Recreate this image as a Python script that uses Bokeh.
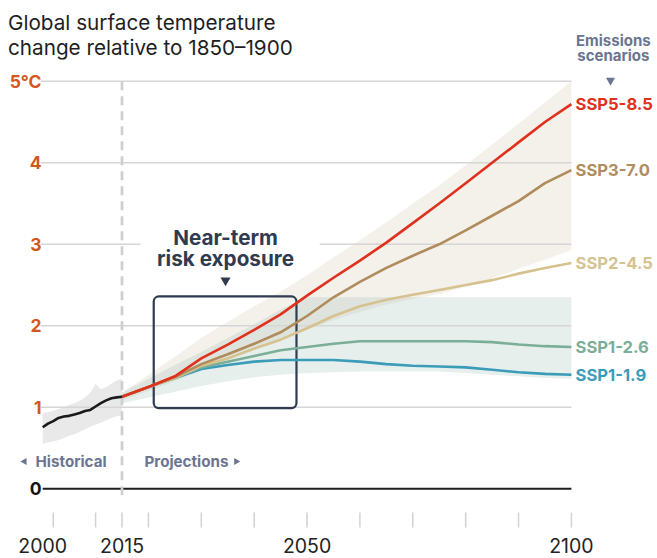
from bokeh.plotting import figure
from bokeh.models import Range1d
from bokeh.core.properties import value
from bokeh.embed import file_html
from bokeh.resources import INLINE

# ---- data -------------------------------------------------------------
hist_years = [2000, 2001, 2002, 2003, 2004, 2005, 2006, 2007, 2008, 2009,
              2010, 2011, 2012, 2013, 2014, 2015]
hist_temp = [0.755, 0.80, 0.83, 0.87, 0.887, 0.895, 0.913, 0.93, 0.955, 0.968,
             1.01, 1.05, 1.085, 1.11, 1.122, 1.13]
hist_upper = [0.93, 0.94, 0.96, 0.98, 1.00, 1.03, 1.05, 1.08, 1.12, 1.18,
              1.29, 1.22, 1.25, 1.29, 1.33, 1.35]
hist_lower = [0.55, 0.57, 0.58, 0.60, 0.62, 0.65, 0.67, 0.70, 0.73, 0.76,
              0.79, 0.81, 0.84, 0.87, 0.89, 0.90]

proj_years = [2015, 2020, 2025, 2030, 2035, 2040, 2045, 2050, 2055, 2060,
              2065, 2070, 2075, 2080, 2085, 2090, 2095, 2100]
ssp585 = [1.13, 1.25, 1.38, 1.60, 1.77, 1.95, 2.14, 2.37, 2.59, 2.80,
          3.02, 3.26, 3.50, 3.75, 4.00, 4.25, 4.50, 4.72]
ssp370 = [1.13, 1.25, 1.37, 1.53, 1.65, 1.78, 1.92, 2.12, 2.35, 2.54,
          2.71, 2.86, 3.00, 3.17, 3.35, 3.53, 3.75, 3.91]
ssp245 = [1.13, 1.25, 1.36, 1.51, 1.60, 1.72, 1.83, 1.97, 2.12, 2.24,
          2.32, 2.38, 2.44, 2.50, 2.56, 2.64, 2.71, 2.77]
ssp126 = [1.13, 1.25, 1.36, 1.49, 1.56, 1.63, 1.70, 1.74, 1.78, 1.81,
          1.81, 1.81, 1.81, 1.81, 1.80, 1.77, 1.75, 1.74]
ssp119 = [1.13, 1.25, 1.36, 1.47, 1.52, 1.56, 1.58, 1.58, 1.58, 1.56,
          1.53, 1.51, 1.50, 1.49, 1.46, 1.43, 1.41, 1.40]

# likely ranges: high-emission pair and low-emission pair
high_upper = [1.18, 1.40, 1.62, 1.85, 2.05, 2.24, 2.42, 2.62, 2.84, 3.05,
              3.27, 3.50, 3.72, 3.97, 4.22, 4.48, 4.74, 5.00]
high_lower = [1.08, 1.20, 1.32, 1.45, 1.57, 1.70, 1.83, 1.95, 2.07, 2.17,
              2.26, 2.33, 2.39, 2.48, 2.58, 2.70, 2.81, 2.93]
low_upper = [1.18, 1.35, 1.52, 1.68, 1.85, 2.02, 2.20, 2.35, 2.35, 2.35,
             2.35, 2.35, 2.35, 2.35, 2.35, 2.35, 2.35, 2.35]
low_lower = [1.05, 1.12, 1.19, 1.26, 1.32, 1.37, 1.40, 1.42, 1.43, 1.44,
             1.44, 1.44, 1.44, 1.42, 1.40, 1.38, 1.36, 1.35]

scenario_names = ["SSP5-8.5", "SSP3-7.0", "SSP2-4.5", "SSP1-2.6", "SSP1-1.9"]
scenario_series = [ssp585, ssp370, ssp245, ssp126, ssp119]
scenario_colors = ["#e0301e", "#b08b5b", "#d6c28f", "#7bae98", "#3a9cb8"]

y_ticks = [0, 1, 2, 3, 4, 5]
y_tick_labels = ["0", "1", "2", "3", "4", "5°C"]
x_tick_marks = [2002, 2010, 2015, 2020, 2030, 2040, 2050, 2060, 2070, 2080, 2090, 2100]
x_labels = [2000, 2015, 2050, 2100]

box_years = [2021, 2048]
box_temps = [0.99, 2.36]

# ---- styling ----------------------------------------------------------
FONT = value("Inter")
ORANGE = "#d4561e"
SLATE = "#2f3b4f"
MUTED = "#6b7591"
GRID = "#d6d6d6"

p = figure(width=657, height=558, output_backend="svg", toolbar_location=None,
           x_range=Range1d(1992.018, 2116.285), y_range=Range1d(-0.855, 5.991),
           min_border=0, background_fill_color="white", border_fill_color="white")
p.axis.visible = False
p.grid.visible = False
p.outline_line_color = None

# uncertainty bands
p.varea(x=hist_years, y1=hist_lower, y2=hist_upper, fill_color="#e9e9e9")
p.varea(x=proj_years, y1=high_lower, y2=high_upper, fill_color="#dacdb9", fill_alpha=0.3)
p.varea(x=proj_years, y1=low_lower, y2=low_upper, fill_color="#acc9bf", fill_alpha=0.3)

# horizontal grid lines (the 3 °C line leaves room for the annotation)
for t in y_ticks[1:]:
    if t == 3:
        p.segment(x0=[1999.6, 2052.4], x1=[2018.5, 2100], y0=[t, t], y1=[t, t],
                  line_color=GRID, line_width=1.5)
    else:
        p.segment(x0=[1999.6], x1=[2100], y0=[t], y1=[t], line_color=GRID, line_width=1.5)
p.segment(x0=[2000], x1=[2100], y0=[0], y1=[0], line_color="#1e1e1e", line_width=2)

# split between observations and projections
p.segment(x0=[2015], x1=[2015], y0=[5.0], y1=[-0.09], line_color="#cfcfcf",
          line_width=2.7, line_dash="9 6")

# x tick marks and labels
p.segment(x0=x_tick_marks, x1=x_tick_marks, y0=[-0.291] * len(x_tick_marks),
          y1=[-0.475] * len(x_tick_marks), line_color="#d2d2d2", line_width=1.5)
p.text(x=x_labels, y=[-0.70] * len(x_labels), text=[str(v) for v in x_labels],
       text_font=FONT, text_font_size="19.5px", text_color="#222222",
       text_align="center", text_baseline="alphabetic")

# y tick labels
p.text(x=[1999.77] * 5, y=y_ticks[1:], text=y_tick_labels[1:], text_font=FONT,
       text_font_size="17.5px", text_font_style="bold", text_color=ORANGE,
       text_align="right", text_baseline="middle")
p.text(x=[1999.77], y=[0], text=["0"], text_font=FONT, text_font_size="17.5px",
       text_font_style="bold", text_color="#111111", text_align="right",
       text_baseline="middle")

# near-term box
p.quad(left=[box_years[0]], right=[box_years[1]], bottom=[box_temps[0]], top=[box_temps[1]],
       fill_color=None, line_color=SLATE, line_width=2.2, border_radius=5)

# scenario lines
for series, color in zip(reversed(scenario_series), reversed(scenario_colors)):
    p.line(proj_years, series, line_color=color, line_width=2.6, line_join="round")
p.line(hist_years, hist_temp, line_color="#1a1a1a", line_width=2.6, line_join="round")

# scenario labels at the end of each line
p.text(x=[2100.78] * 5, y=[s[-1] for s in scenario_series], text=scenario_names,
       text_color=scenario_colors, text_font=FONT, text_font_size="16.6px",
       text_font_style="bold", text_align="left", text_baseline="middle")

# title
p.text(x=[1993.44, 1993.44], y=[5.716, 5.411],
       text=["Global surface temperature", "change relative to 1850–1900"],
       text_font=FONT, text_font_size="20.7px", text_color="#1e1e1e",
       text_align="left", text_baseline="alphabetic")

# legend heading
p.text(x=[2107.93, 2107.93], y=[5.501, 5.321], text=["Emissions", "scenarios"],
       text_font=FONT, text_font_size="15px", text_font_style="bold",
       text_color=MUTED, text_align="center", text_baseline="alphabetic")
p.scatter(x=[2107.4], y=[5.01], marker="inverted_triangle", size=9,
          fill_color=MUTED, line_color=None)

# near-term annotation
p.text(x=[2034.58, 2034.58], y=[3.080, 2.822], text=["Near-term", "risk exposure"],
       text_font=FONT, text_font_size="20.7px", text_font_style="bold",
       text_color=SLATE, text_align="center", text_baseline="alphabetic")
p.scatter(x=[2034.58], y=[2.556], marker="inverted_triangle", size=10,
          fill_color=SLATE, line_color=None)

# period labels
p.text(x=[1998.64, 2019.25], y=[0.332, 0.332], text=["Historical", "Projections"],
       text_font=FONT, text_font_size="15.2px", text_font_style="bold",
       text_color=MUTED, text_align="left", text_baseline="alphabetic")
p.scatter(x=[1996.56], y=[0.335], marker="triangle", angle=1.5708, size=7,
          fill_color=MUTED, line_color=None)
p.scatter(x=[2036.6], y=[0.335], marker="triangle", angle=-1.5708, size=7,
          fill_color=MUTED, line_color=None)

open("out.html", "w").write(file_html(p, INLINE))
